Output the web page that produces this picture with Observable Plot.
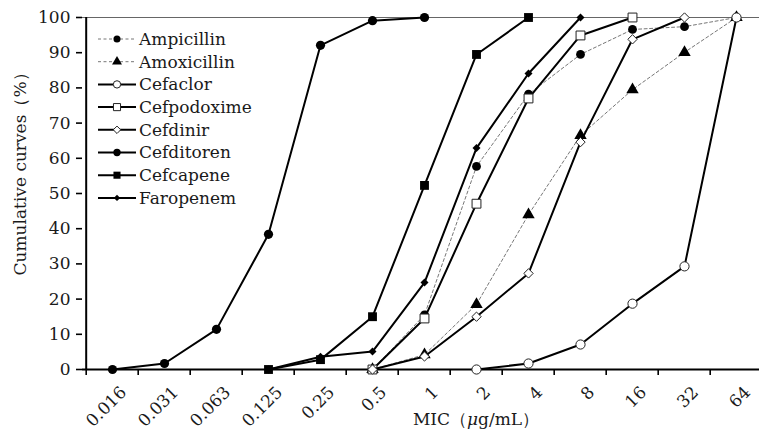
<!DOCTYPE html>
<html>
<head>
<meta charset="utf-8">
<script src="https://cdn.jsdelivr.net/npm/d3@7"></script>
<script src="https://cdn.jsdelivr.net/npm/@observablehq/plot@0.6"></script>
<style>
  html, body { margin: 0; padding: 0; background: #fff; }
  #chart { width: 759px; height: 433px; overflow: hidden; }
</style>
</head>
<body>
<div id="chart"></div>
<script>
// ---- data ----
const mics = ["0.016", "0.031", "0.063", "0.125", "0.25", "0.5", "1", "2", "4", "8", "16", "32", "64"];
const drugs = ["Ampicillin", "Amoxicillin", "Cefaclor", "Cefpodoxime", "Cefdinir", "Cefditoren", "Cefcapene", "Faropenem"];
const ampicillin  = [null, null, null, null, null, 0, 15.5, 57.7, 78.2, 89.5, 96.6, 97.4, 100];
const amoxicillin = [null, null, null, null, null, 0, 4.2, 18.5, 44.0, 66.5, 79.5, 90.1, 100];
const cefaclor    = [null, null, null, null, null, null, null, 0, 1.7, 7.1, 18.7, 29.3, 100];
const cefpodoxime = [null, null, null, null, null, 0, 14.5, 47.1, 77.0, 94.9, 100, null, null];
const cefdinir    = [null, null, null, null, null, 0, 3.7, 15.0, 27.3, 64.6, 93.8, 100, null];
const cefditoren  = [0, 1.7, 11.4, 38.4, 92.1, 99.1, 100, null, null, null, null, null, null];
const cefcapene   = [null, null, null, 0, 2.8, 15.0, 52.3, 89.5, 100, null, null, null, null];
const faropenem   = [null, null, null, 0, 3.6, 5.1, 24.7, 62.9, 84.1, 100, null, null, null];
const yTicks = [0, 10, 20, 30, 40, 50, 60, 70, 80, 90, 100];
const xTitle = "MIC";
const xUnit = "g/mL";
const yTitle = "Cumulative curves（%）";

const seriesValues = [ampicillin, amoxicillin, cefaclor, cefpodoxime, cefdinir, cefditoren, cefcapene, faropenem];

// ---- styles ----
const styleOf = {
  Ampicillin:  {dashed: true,  symbol: "circle",   fill: "#000", r: 4.4},
  Amoxicillin: {dashed: true,  symbol: "triangle", fill: "#000", r: 4.6},
  Cefaclor:    {dashed: false, symbol: "circle",   fill: "#fff", r: 4.6},
  Cefpodoxime: {dashed: false, symbol: "square",   fill: "#fff", r: 5.0},
  Cefdinir:    {dashed: false, symbol: "diamond2", fill: "#fff", r: 4.2},
  Cefditoren:  {dashed: false, symbol: "circle",   fill: "#000", r: 4.6},
  Cefcapene:   {dashed: false, symbol: "square",   fill: "#000", r: 5.0},
  Faropenem:   {dashed: false, symbol: "diamond2", fill: "#000", r: 3.6}
};

const rows = [];
drugs.forEach((drug, k) => {
  seriesValues[k].forEach((v, i) => {
    if (v != null) rows.push({drug, mic: mics[i], value: v});
  });
});

const W = 759, H = 433;
const x0 = 82, x1 = 766;
const step = (x1 - x0) / mics.length;

const seriesMarks = [];
drugs.forEach(drug => {
  const s = styleOf[drug];
  const data = rows.filter(d => d.drug === drug);
  seriesMarks.push(Plot.line(data, {
    x: "mic", y: "value",
    stroke: s.dashed ? "#777" : "#000",
    strokeWidth: s.dashed ? 1 : 2,
    strokeDasharray: s.dashed ? "3,2.5" : null
  }));
  seriesMarks.push(Plot.dot(data, {
    x: "mic", y: "value",
    symbol: () => s.symbol,
    r: s.r,
    fill: s.fill,
    stroke: s.fill === "#fff" ? "#222" : "none",
    strokeWidth: 1
  }));
});

const chart = Plot.plot({
  width: W,
  height: H,
  marginLeft: x0,
  marginRight: 0,
  marginTop: 17,
  marginBottom: 64,
  style: {fontFamily: "'DejaVu Serif', serif", fontSize: "17px", color: "#1a1a1a", background: "#fff"},
  x: {type: "point", domain: mics, range: [x0, x1], padding: 0.5, align: 0.5, axis: null},
  y: {domain: [0, 100], axis: null},
  symbol: {type: "identity"},
  marks: [
    Plot.ruleY([100], {stroke: "#666", strokeWidth: 1}),
    Plot.axisY({ticks: yTicks, tickSize: 6, tickPadding: 6, fontSize: 17, label: null, strokeWidth: 1.6, stroke: "#000"}),
    Plot.axisX({tickSize: 6, tickFormat: () => "", dx: -step / 2, strokeWidth: 1.6, stroke: "#000", label: null}),
    Plot.axisX({tickSize: 0, tickRotate: -45, tickPadding: 20, fontSize: 17, label: null, dx: 11}),
    Plot.ruleY([0], {stroke: "#000", strokeWidth: 2}),
    Plot.ruleX([mics[0]], {dx: -step / 2, y1: 0, y2: 100, stroke: "#000", strokeWidth: 2}),
    ...seriesMarks
  ]
});

document.getElementById("chart").appendChild(chart);

// ---- legend and titles ----
const svg = d3.select(chart);
const lg = svg.append("g").attr("font-family", "'DejaVu Serif', serif").attr("font-size", 17).attr("text-anchor", "start");
const symPath = {circle: d3.symbolCircle, triangle: d3.symbolTriangle, square: d3.symbolSquare, diamond2: d3.symbolDiamond2};
drugs.forEach((drug, i) => {
  const s = styleOf[drug];
  const yy = 39 + i * 22.7;
  lg.append("line").attr("x1", 98).attr("x2", 136).attr("y1", yy).attr("y2", yy)
    .attr("stroke", s.dashed ? "#777" : "#000")
    .attr("stroke-width", s.dashed ? 1 : 2)
    .attr("stroke-dasharray", s.dashed ? "3,2.5" : null);
  const r = s.r * 0.8;
  lg.append("path").attr("transform", `translate(117,${yy})`)
    .attr("d", d3.symbol(symPath[s.symbol], Math.PI * r * r)())
    .attr("fill", s.fill)
    .attr("stroke", s.fill === "#fff" ? "#222" : "none");
  lg.append("text").attr("x", 139).attr("y", yy).attr("dy", "0.35em")
    .attr("text-anchor", "start")
    .attr("fill", "#1a1a1a").text(drug);
});

svg.append("text")
  .attr("transform", "translate(20,170) rotate(-90)")
  .attr("text-anchor", "middle").attr("dy", "0.35em")
  .attr("font-family", "'DejaVu Serif', serif").attr("font-size", 17)
  .attr("fill", "#1a1a1a")
  .text(yTitle);

const xt = svg.append("text")
  .attr("x", 476).attr("y", 425)
  .attr("text-anchor", "middle")
  .attr("font-family", "'DejaVu Serif', serif").attr("font-size", 17)
  .attr("fill", "#1a1a1a");
xt.append("tspan").text(xTitle + "（");
xt.append("tspan").attr("font-style", "italic").text("μ");
xt.append("tspan").text(xUnit + "）");
</script>
</body>
</html>
